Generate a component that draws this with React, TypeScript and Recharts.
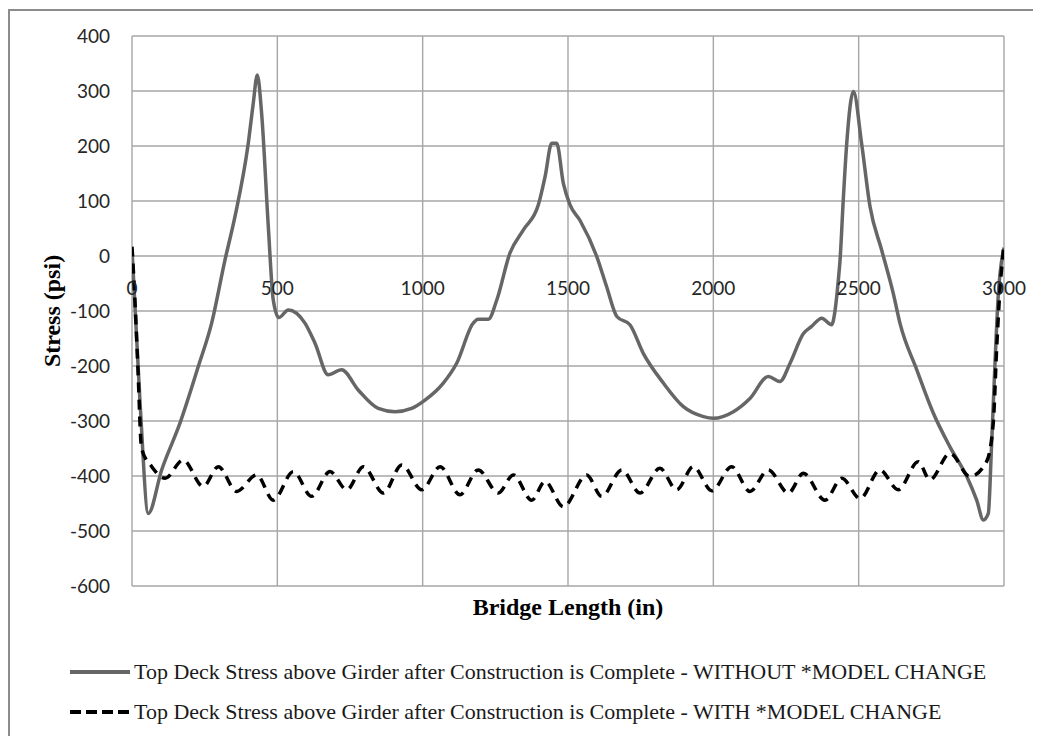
import React from 'react'
import { LineChart, Line, XAxis, YAxis, CartesianGrid } from 'recharts'

// bridge length (in) / stress (psi)
const xTicks = [0, 500, 1000, 1500, 2000, 2500, 3000]
const yTicks = [-600, -500, -400, -300, -200, -100, 0, 100, 200, 300, 400]

const withoutX = [
  0, 28, 56, 102, 165, 228, 274, 320, 354, 400, 417, 431, 446, 469, 486, 505,
  538, 595, 630, 675, 721, 779, 847, 905, 962, 1008, 1071, 1117, 1174, 1191,
  1226, 1255, 1300, 1346, 1398, 1421, 1444, 1461, 1484, 1507, 1541, 1599, 1633,
  1668, 1713, 1759, 1828, 1897, 1966, 2000, 2069, 2126, 2189, 2229, 2264, 2310,
  2338, 2373, 2407, 2419, 2430, 2436, 2447, 2459, 2482, 2510, 2539, 2579, 2619,
  2642, 2700, 2757, 2814, 2872, 2906, 2929, 2946, 2957, 2969, 2980, 3000,
]
const withoutY = [
  12, -270, -468, -389, -304, -201, -122, -7, 71, 205, 277, 329, 259, 53, -80, -112,
  -98, -122, -159, -216, -207, -244, -277, -283, -277, -262, -231, -195, -122, -115,
  -115, -80, 5, 47, 93, 144, 205, 205, 132, 93, 65, -1, -56,
  -110, -125, -177, -231, -274, -292, -295, -283, -259, -219, -228, -195, -141,
  -128, -113, -125, -98, -44, -7, 102, 205, 299, 205, 90, 11, -68,
  -122, -207, -286, -347, -401, -444, -480, -468, -347, -195, -74, 15,
]

const withX = [
  0, 10, 20, 33, 68, 114, 176, 245, 297, 360, 429, 486, 555, 618, 681, 739, 796,
  865, 928, 997, 1060, 1128, 1191, 1260, 1312, 1375, 1421, 1484, 1564, 1616,
  1685, 1748, 1816, 1874, 1931, 1995, 2063, 2126, 2189, 2258, 2310, 2384, 2442,
  2505, 2573, 2636, 2705, 2745, 2814, 2883, 2940, 2963, 2975, 2986, 3000,
]
const withY = [
  17, -80, -200, -350, -383, -404, -371, -419, -383, -428, -398, -444, -392, -437, -392, -425, -383,
  -431, -380, -425, -383, -434, -389, -431, -398, -444, -410, -456, -398, -437,
  -389, -431, -386, -425, -383, -427, -383, -428, -389, -431, -395, -444, -404,
  -441, -389, -425, -374, -407, -359, -401, -374, -304, -165, -62, 20,
]

const seriesNames = [
  'Top Deck Stress above Girder after Construction is Complete - WITHOUT *MODEL CHANGE',
  'Top Deck Stress above Girder after Construction is Complete - WITH *MODEL CHANGE',
]

const withoutData = withoutX.map((x, i) => ({ x, y: withoutY[i] }))
const withData = withX.map((x, i) => ({ x, y: withY[i] }))

const W = 1033
const H = 728
const margin = { top: 28, right: 37, bottom: 110, left: 0 }
const Y_AXIS_W = 124
const X_AXIS_H = 40
const yMin = -600
const yMax = 400
const plotH = H - margin.top - margin.bottom - X_AXIS_H
// the value axis crosses at 0, so the x labels sit under the zero line
const zeroLift = (plotH * (0 - yMin)) / (yMax - yMin)

const serif = '"Liberation Serif", "Times New Roman", Times, serif'
const tickFont = { fontFamily: 'Lato, sans-serif', fontSize: 19, fill: '#262626' }
const frameColor = '#8c8c8c'

function XTick({ x, y, payload }: any) {
  return (
    <text x={x} y={y - zeroLift + 31} textAnchor="middle" dominantBaseline="central" {...tickFont}>
      {payload.value}
    </text>
  )
}

function YTitle({ viewBox }: any) {
  const cx = viewBox.x + 44
  const cy = viewBox.y + viewBox.height / 2
  return (
    <text x={cx} y={cy} transform={`rotate(-90 ${cx} ${cy})`} textAnchor="middle" dominantBaseline="central" style={{ fontFamily: serif, fontSize: 24, fontWeight: 700 }} fill="#000">
      Stress (psi)
    </text>
  )
}

function XTitle({ viewBox }: any) {
  return (
    <text x={viewBox.x + viewBox.width / 2} y={viewBox.y + 21} textAnchor="middle" dominantBaseline="central" style={{ fontFamily: serif, fontSize: 24, fontWeight: 700 }} fill="#000">
      Bridge Length (in)
    </text>
  )
}

function LegendRow({ name, color, dash }: { name: string; color: string; dash?: string }) {
  return (
    <div style={{ display: 'flex', alignItems: 'center', height: 40 }}>
      <svg width={60} height={10} style={{ marginLeft: 62 }}>
        <line x1={0} y1={5} x2={60} y2={5} stroke={color} strokeWidth={4} strokeDasharray={dash} />
      </svg>
      <span style={{ marginLeft: 4, fontFamily: serif, fontSize: 22, color: '#1a1a1a', whiteSpace: 'nowrap' }}>
        {name}
      </span>
    </div>
  )
}

export default function App() {
  return (
    <>
      <style>{'html, body { overflow: hidden; }'}</style>
      <div style={{ position: 'relative', width: W, height: H, overflow: 'hidden', background: '#fff' }}>
        {/* chart frame: only its top and left edges fall inside the picture */}
        <div style={{ position: 'absolute', left: 0, top: 1, width: W, height: 2, background: frameColor }} />
        <div style={{ position: 'absolute', left: 0, top: 1, width: 2, height: H, background: frameColor }} />
        <div style={{ position: 'absolute', left: 0, top: 0 }}>
          <LineChart width={W} height={H} margin={margin}>
            <CartesianGrid stroke="#a6a6a6" strokeWidth={1.4} />
            <XAxis
              dataKey="x" type="number" domain={[0, 3000]} ticks={xTicks}
              height={X_AXIS_H} axisLine={false} tickLine={false} tickSize={0} tickMargin={0}
              tick={<XTick />} label={<XTitle />} allowDataOverflow
            />
            <YAxis
              type="number" domain={[yMin, yMax]} ticks={yTicks} width={Y_AXIS_W}
              axisLine={false} tickLine={false} tickSize={0} tickMargin={22}
              tick={tickFont} label={<YTitle />} allowDataOverflow
            />
            <Line
              data={withoutData} dataKey="y" type="monotone" stroke="#666666" strokeWidth={3.5}
              dot={false} activeDot={false} isAnimationActive={false} name={seriesNames[0]}
            />
            <Line
              data={withData} dataKey="y" type="monotone" stroke="#000000" strokeWidth={3.5}
              strokeDasharray="10 7" dot={false} activeDot={false} isAnimationActive={false} name={seriesNames[1]}
            />
          </LineChart>
        </div>
        <div style={{ position: 'absolute', left: 0, top: 644 }}>
          <LegendRow name={seriesNames[0]} color="#666666" />
          <LegendRow name={seriesNames[1]} color="#000000" dash="11 5" />
        </div>
      </div>
    </>
  )
}
